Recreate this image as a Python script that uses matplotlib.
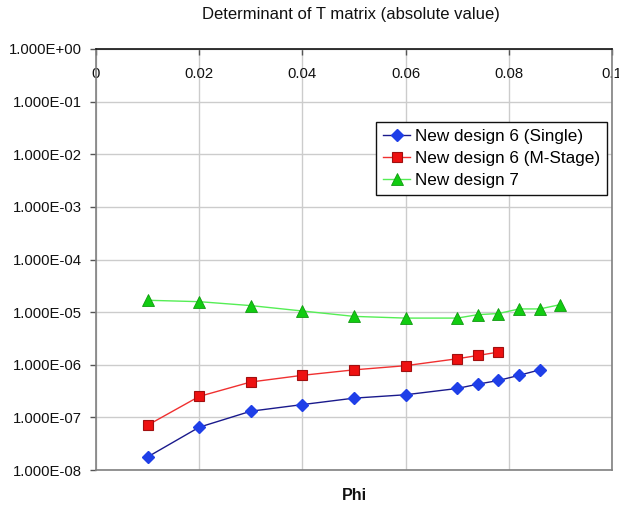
import matplotlib
matplotlib.use("Agg")
import matplotlib.pyplot as plt
from matplotlib.ticker import FuncFormatter, FixedLocator

plt.rcParams['font.family'] = ['Liberation Sans', 'DejaVu Sans']

# Phi values and determinant magnitudes for each design
phi_single = [0.01, 0.02, 0.03, 0.04, 0.05, 0.06, 0.07, 0.074, 0.078, 0.082, 0.086]
det_single = [1.77e-8, 6.5e-8, 1.31e-7, 1.75e-7, 2.32e-7, 2.69e-7, 3.54e-7, 4.28e-7, 5.03e-7, 6.3e-7, 8.0e-7]

phi_mstage = [0.01, 0.02, 0.03, 0.04, 0.05, 0.06, 0.07, 0.074, 0.078]
det_mstage = [7.1e-8, 2.5e-7, 4.7e-7, 6.3e-7, 8.0e-7, 9.6e-7, 1.3e-6, 1.5e-6, 1.74e-6]

phi_d7 = [0.01, 0.02, 0.03, 0.04, 0.05, 0.06, 0.07, 0.074, 0.078, 0.082, 0.086, 0.09]
det_d7 = [1.68e-5, 1.58e-5, 1.33e-5, 1.05e-5, 8.3e-6, 7.7e-6, 7.7e-6, 8.95e-6, 9.4e-6, 1.15e-5, 1.15e-5, 1.39e-5]

labels = ["New design 6 (Single)", "New design 6 (M-Stage)", "New design 7"]
x_ticks = [0, 0.02, 0.04, 0.06, 0.08, 0.1]
x_tick_labels = ["0", "0.02", "0.04", "0.06", "0.08", "0.1"]
y_ticks = [1e0, 1e-1, 1e-2, 1e-3, 1e-4, 1e-5, 1e-6, 1e-7, 1e-8]

fig = plt.figure(figsize=(6.19, 5.08), dpi=100)
ax = fig.add_axes([96 / 619, 38 / 508, 516 / 619, 421 / 508])

ax.plot(phi_single, det_single, color="#1a1a8c", lw=1.0, marker="D", ms=6.5,
        mfc="#1f3fe8", mec="#1f3fe8", label=labels[0], zorder=3)
ax.plot(phi_mstage, det_mstage, color="#f03030", lw=1.0, marker="s", ms=7.5,
        mfc="#ee1111", mec="#a01010", mew=0.8, label=labels[1], zorder=3)
ax.plot(phi_d7, det_d7, color="#55ee55", lw=1.0, marker="^", ms=8.5,
        mfc="#11cc11", mec="#119911", mew=0.6, label=labels[2], zorder=3)

ax.set_yscale("log")
ax.set_ylim(1e-8, 1e0)
ax.set_xlim(0, 0.1)
ax.yaxis.set_major_locator(FixedLocator(y_ticks))
ax.yaxis.set_minor_locator(FixedLocator([]))
ax.yaxis.set_major_formatter(FuncFormatter(lambda v, p: f"{v:.3E}"))
ax.set_xticks(x_ticks)
ax.set_xticklabels(x_tick_labels)

ax.grid(True, color="#cccccc", lw=1.0)
ax.set_axisbelow(True)

ax.tick_params(axis="y", direction="out", length=4, width=1, color="#555555",
               labelsize=10.7, labelcolor="#111111", pad=6)
ax.tick_params(axis="x", top=True, bottom=False, labeltop=True, labelbottom=False,
               direction="in", length=4, width=1, color="#555555",
               labelsize=10.7, labelcolor="#111111", pad=-23)

for side in ("left", "bottom", "right"):
    ax.spines[side].set_color("#808080")
    ax.spines[side].set_linewidth(1.2)
ax.spines["top"].set_color("#111111")
ax.spines["top"].set_linewidth(1.2)

fig.text(351 / 619, 1 - 15 / 508, "Determinant of T matrix (absolute value)",
         ha="center", va="center", fontsize=12, color="#111111")
fig.text(354 / 619, 1 - 496 / 508, "Phi", ha="center", va="center",
         fontsize=11.5, fontweight="bold", color="#111111")

leg = ax.legend(loc="upper left", bbox_to_anchor=((376 - 96) / 516, (470 - 122) / 421),
                fontsize=12.3, frameon=True, fancybox=False, edgecolor="#111111",
                framealpha=1, handlelength=1.6, handletextpad=0.3,
                labelspacing=0.42, borderpad=0.4, borderaxespad=0)
leg.get_frame().set_linewidth(1.0)

fig.savefig("out.png", dpi=100)
